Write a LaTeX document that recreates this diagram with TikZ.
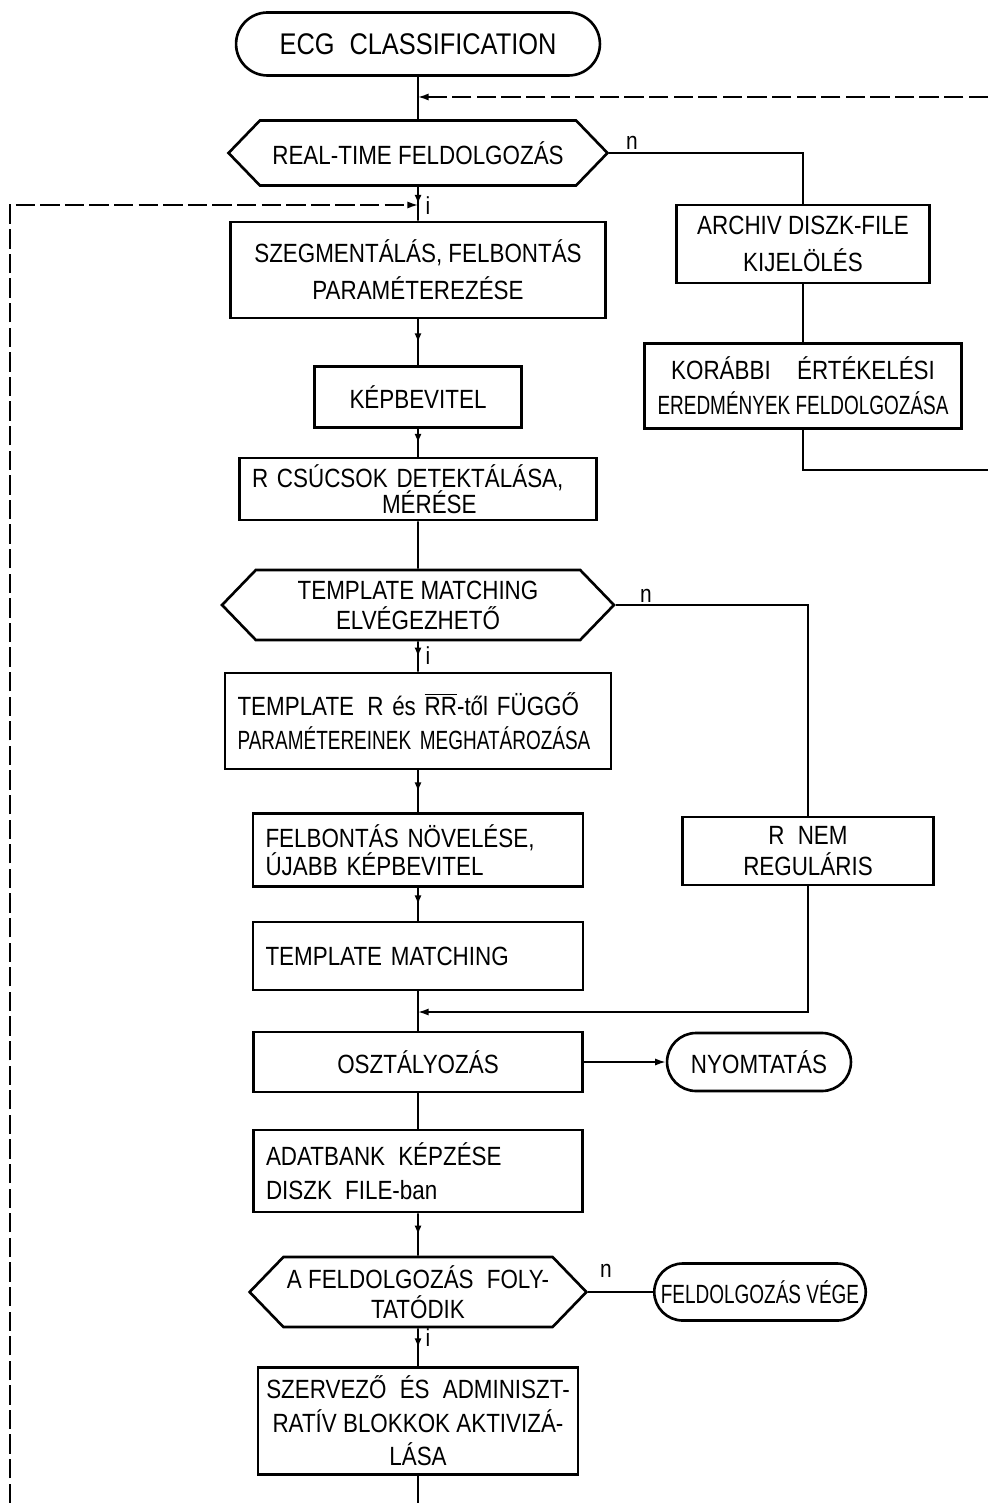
\documentclass[tikz,border=0pt]{standalone}
\usepackage{amsmath}
\usepackage{fontspec}
\setmainfont[FakeStretch=0.85]{Liberation Sans}
\newfontfamily\narrowfont[FakeStretch=0.72]{Liberation Sans}
\usetikzlibrary{shapes.misc,shapes.symbols,arrows.meta,decorations.markings}

\tikzset{
  box/.style={draw,line width=1.5pt,inner xsep=0.25cm,inner ysep=0pt,align=center},
  leftbox/.style={box,align=left,text width=#1},
  term/.style={draw,line width=1.5pt,rounded rectangle,inner xsep=4pt,inner ysep=0pt,align=center},
  query/.style={draw,line width=1.5pt,signal,signal to=west and east,signal pointer angle=92,
    inner xsep=2pt,inner ysep=0pt,align=center},
  flow/.style={line width=0.9pt},
  midarrow/.style={postaction={decorate},decoration={markings,
    mark=at position 0.5 with {\arrow{Latex[length=5pt,width=4pt]}}}},
  loopline/.style={line width=0.9pt,dash pattern=on 11pt off 3pt},
  lbl/.style={font=\fontsize{14}{16}\selectfont,inner sep=1pt}
}

\begin{document}
\begin{tikzpicture}[x=0.02cm,y=-0.02cm,every node/.style={font=\fontsize{15}{17}\selectfont}]
  \useasboundingbox (0,0) rectangle (988,1503);

  %--- main column
  \node[term,minimum width=7.56cm,minimum height=1.26cm,font=\fontsize{17}{19}\selectfont]
    (start) at (418,44) {ECG\enspace CLASSIFICATION};
  \node[query,minimum width=7.58cm,minimum height=1.3cm] (dec1) at (418,153) {REAL-TIME FELDOLGOZÁS};
  \node[box,minimum width=7.5cm,minimum height=1.92cm] (seg) at (418,270)
    {SZEGMENTÁLÁS, FELBONTÁS\\[4pt]PARAMÉTEREZÉSE};
  \node[box,minimum width=4.14cm,minimum height=1.22cm] (kep) at (418,397) {KÉPBEVITEL};
  \node[leftbox=6.64cm,minimum height=1.24cm,font=\fontsize{15}{15}\selectfont] (rcs) at (418,489)
    {R CSÚCSOK DETEKTÁLÁSA,\\\hspace*{2.6cm}MÉRÉSE};
  \node[query,minimum width=7.84cm,minimum height=1.4cm] (dec2) at (418,605)
    {TEMPLATE MATCHING\\ELVÉGEZHETŐ};
  \node[leftbox=7.22cm,minimum height=1.92cm,font=\fontsize{15}{19}\selectfont] (tpl) at (418,721)
    {TEMPLATE\, R és $\overline{\text{RR}}$-től FÜGGŐ\\{\narrowfont PARAMÉTEREINEK MEGHATÁROZÁSA}};
  \node[leftbox=6.1cm,minimum height=1.46cm,font=\fontsize{15}{16}\selectfont] (fel) at (418,850)
    {FELBONTÁS NÖVELÉSE,\\ÚJABB KÉPBEVITEL};
  \node[leftbox=6.1cm,minimum height=1.36cm] (tm) at (418,956) {TEMPLATE MATCHING};
  \node[box,minimum width=6.58cm,minimum height=1.2cm] (osz) at (418,1062) {OSZTÁLYOZÁS};
  \node[leftbox=6.08cm,minimum height=1.64cm] (ada) at (418,1171)
    {ADATBANK\enspace KÉPZÉSE\\[2pt]DISZK\enspace FILE-ban};
  \node[query,minimum width=6.56cm,minimum height=1.4cm] (dec3) at (418,1292)
    {A FELDOLGOZÁS\enspace FOLY-\\TATÓDIK};
  \node[box,minimum width=6.4cm,minimum height=2.14cm,inner xsep=2pt,font=\fontsize{15}{19}\selectfont]
    (szv) at (418,1421) {SZERVEZŐ\enspace ÉS\enspace ADMINISZT-\\RATÍV BLOKKOK AKTIVIZÁ-\\LÁSA};

  %--- right column
  \node[box,minimum width=5.06cm,minimum height=1.56cm,font=\fontsize{15}{21}\selectfont] (arch) at (803,244)
    {ARCHIV DISZK-FILE\\KIJELÖLÉS};
  \node[box,minimum width=6.34cm,minimum height=1.7cm,inner xsep=2pt,font=\fontsize{15}{20}\selectfont]
    (kor) at (803,386) {KORÁBBI\quad ÉRTÉKELÉSI\\{\narrowfont EREDMÉNYEK FELDOLGOZÁSA}};
  \node[box,minimum width=5.02cm,minimum height=1.36cm,font=\fontsize{15}{18}\selectfont] (rnem) at (808,851)
    {R\enspace NEM\\REGULÁRIS};
  \node[term,minimum width=3.96cm,minimum height=1.16cm] (nyo) at (759,1062) {NYOMTATÁS};
  \node[term,minimum width=4.3cm,minimum height=1.14cm,inner xsep=1pt] (end) at (760,1292)
    {\narrowfont FELDOLGOZÁS VÉGE};

  %--- branch labels
  \node[lbl] (n1) at (632,143) {n};
  \node[lbl] (i1) at (428,206) {i};
  \node[lbl] (n2) at (646,596) {n};
  \node[lbl] (i2) at (428,656) {i};
  \node[lbl] (n3) at (606,1271) {n};
  \node[lbl] (i3) at (428,1338) {i};

  %--- free ends at the edge of the sheet
  \coordinate (j1) at (418,97);
  \coordinate (jr1) at (988,97);
  \coordinate (jr2) at (988,470);
  \coordinate (j0) at (418,205);
  \coordinate (jl1) at (10,205);
  \coordinate (jl0) at (10,1503);
  \coordinate (j2) at (418,1012);
  \coordinate (jb) at (418,1503);

  %--- connectors
  \draw[flow] (start) -- (dec1);
  \draw[loopline,-{Latex[length=6pt,width=4pt]}] (jr1) -- (j1);
  \draw[loopline,-{Latex[length=6pt,width=4pt]}] (jl0) -- (jl1) -- (j0);
  \draw[flow,midarrow] (dec1) -- (seg);
  \draw[flow] (dec1.east) -| (arch.north);
  \draw[flow] (arch) -- (kor);
  \draw[flow] (kor.south) |- (jr2);
  \draw[flow,midarrow] (seg) -- (kep);
  \draw[flow,midarrow] (kep) -- (rcs);
  \draw[flow] (rcs) -- (dec2);
  \draw[flow,midarrow] (dec2) -- (tpl);
  \draw[flow,midarrow] (tpl) -- (fel);
  \draw[flow,midarrow] (fel) -- (tm);
  \draw[flow] (dec2.east) -| (rnem.north);
  \draw[flow] (tm) -- (osz);
  \draw[flow,-{Latex[length=6pt,width=4pt]}] (rnem.south) |- (j2);
  \draw[flow,-{Latex[length=6pt,width=4pt]}] (osz) -- (nyo);
  \draw[flow] (osz) -- (ada);
  \draw[flow,midarrow] (ada) -- (dec3);
  \draw[flow] (dec3.east) -- (end.west);
  \draw[flow,midarrow] (dec3) -- (szv);
  \draw[flow] (szv) -- (jb);
\end{tikzpicture}
\end{document}
